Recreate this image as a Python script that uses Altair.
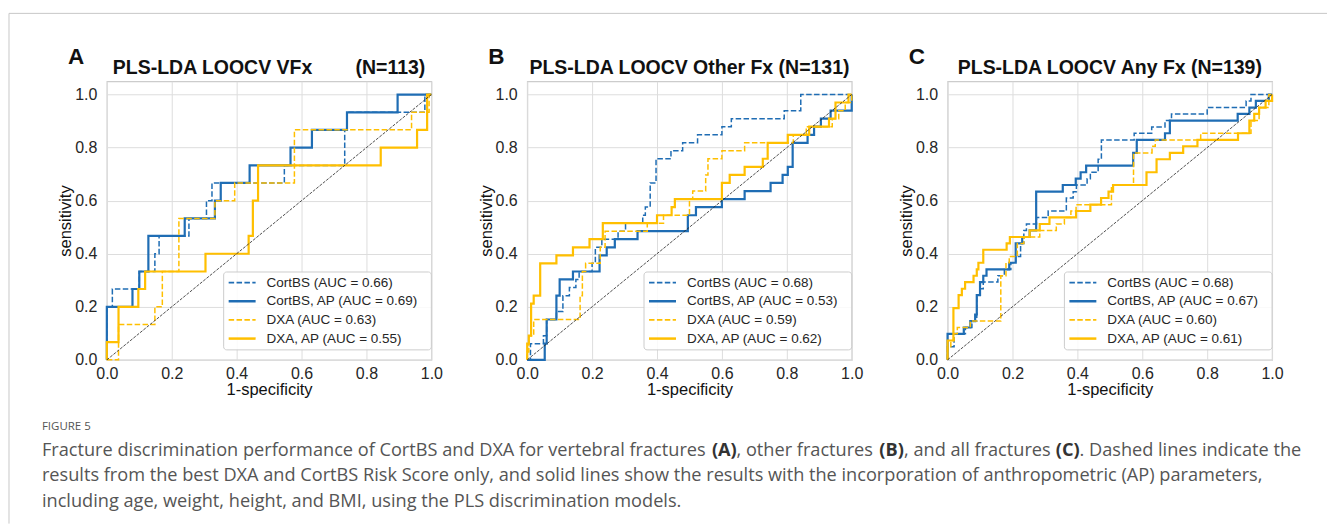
import altair as alt
import pandas as pd

# ---------------------------------------------------------------- styling
BLUE = "#1f6db4"
GOLD = "#ffbf00"
TEXT = "#262626"
FONT = "Liberation Sans"
CAPTION_FONT = "Open Sans"

# ---------------------------------------------------------------- text
PANEL_LETTERS = ["A", "B", "C"]
PANEL_TITLES = [
    "PLS-LDA LOOCV VFx" + "\u00a0" * 7 + " (N=113)",
    "PLS-LDA LOOCV Other Fx (N=131)",
    "PLS-LDA LOOCV Any Fx (N=139)",
]
SERIES_NAMES = ["CortBS", "CortBS, AP", "DXA", "DXA, AP"]
AUC = [
    [0.66, 0.69, 0.63, 0.55],
    [0.68, 0.53, 0.59, 0.62],
    [0.68, 0.67, 0.60, 0.61],
]
TICKS = [0.0, 0.2, 0.4, 0.6, 0.8, 1.0]
CAPTION_HEAD = "FIGURE 5"
# first caption line: (text, bold, left edge relative to the caption margin)
CAPTION_FIRST = [
    ("Fracture discrimination performance of CortBS and DXA for vertebral fractures ", False, 0),
    ("(A)", True, 671),
    (", other fractures ", False, 695.6),
    ("(B)", True, 838.6),
    (", and all fractures ", False, 863.4),
    ("(C)", True, 1015.4),
    (". Dashed lines indicate the", False, 1039.1),
]
CAPTION_LINES = [
    "results from the best DXA and CortBS Risk Score only, and solid lines show the results with the incorporation "
    "of anthropometric (AP) parameters,",
    "including age, weight, height, and BMI, using the PLS discrimination models.",
]

# ---------------------------------------------------------------- ROC vertices (1-specificity, sensitivity)
# Vertebral fractures
A_CORTBS = [(0, 0), (0, 0.2), (0.017, 0.2), (0.017, 0.267), (0.1, 0.267), (0.1, 0.333), (0.148, 0.333),
            (0.148, 0.4), (0.161, 0.4), (0.161, 0.467), (0.253, 0.467), (0.253, 0.533), (0.307, 0.533),
            (0.307, 0.6), (0.324, 0.6), (0.324, 0.667), (0.547, 0.667), (0.547, 0.733), (0.733, 0.733),
            (0.733, 0.867), (0.74, 0.867), (0.74, 0.933), (0.98, 0.933), (0.98, 1.0), (1, 1)]
A_CORTBS_AP = [(0, 0), (0, 0.2), (0.079, 0.2), (0.079, 0.267), (0.1, 0.267), (0.1, 0.333), (0.128, 0.333),
               (0.128, 0.467), (0.24, 0.467), (0.24, 0.533), (0.333, 0.533), (0.333, 0.6), (0.351, 0.6),
               (0.351, 0.667), (0.44, 0.667), (0.44, 0.733), (0.566, 0.733), (0.566, 0.8), (0.632, 0.8),
               (0.632, 0.867), (0.74, 0.867), (0.74, 0.933), (0.896, 0.933), (0.896, 1.0), (1, 1)]
A_DXA = [(0, 0), (0.036, 0), (0.036, 0.133), (0.148, 0.133), (0.148, 0.2), (0.171, 0.2), (0.171, 0.333),
         (0.222, 0.333), (0.222, 0.533), (0.333, 0.533), (0.333, 0.6), (0.394, 0.6), (0.394, 0.667),
         (0.578, 0.667), (0.578, 0.867), (0.939, 0.867), (0.939, 0.933), (0.993, 0.933), (0.993, 1.0), (1, 1)]
A_DXA_AP = [(0, 0), (0, 0.067), (0.036, 0.067), (0.036, 0.2), (0.097, 0.2), (0.097, 0.267), (0.118, 0.267),
            (0.118, 0.333), (0.304, 0.333), (0.304, 0.4), (0.437, 0.4), (0.437, 0.467), (0.45, 0.467),
            (0.45, 0.6), (0.466, 0.6), (0.466, 0.733), (0.844, 0.733), (0.844, 0.8), (0.956, 0.8),
            (0.956, 0.867), (0.987, 0.867), (0.987, 1.0), (1, 1)]

# Other fractures
B_CORTBS = [(0, 0), (0.01, 0), (0.01, 0.061), (0.05, 0.061), (0.05, 0.091), (0.06, 0.091), (0.06, 0.152),
            (0.09, 0.152), (0.09, 0.182), (0.11, 0.182), (0.11, 0.242), (0.13, 0.242), (0.13, 0.273),
            (0.15, 0.273), (0.15, 0.303), (0.16, 0.303), (0.16, 0.333), (0.2, 0.333), (0.2, 0.364),
            (0.21, 0.364), (0.21, 0.424), (0.23, 0.424), (0.23, 0.455), (0.28, 0.455), (0.28, 0.485),
            (0.303, 0.485), (0.303, 0.515), (0.356, 0.515), (0.356, 0.545), (0.364, 0.545), (0.364, 0.576),
            (0.379, 0.576), (0.379, 0.667), (0.397, 0.667), (0.397, 0.758), (0.443, 0.758), (0.443, 0.788),
            (0.479, 0.788), (0.479, 0.818), (0.525, 0.818), (0.525, 0.848), (0.6, 0.848), (0.6, 0.879),
            (0.629, 0.879), (0.629, 0.909), (0.792, 0.909), (0.792, 0.939), (0.843, 0.939), (0.843, 1.0), (1, 1)]
B_CORTBS_AP = [(0, 0), (0.054, 0), (0.054, 0.061), (0.06, 0.061), (0.06, 0.152), (0.09, 0.152), (0.09, 0.242),
               (0.1, 0.242), (0.1, 0.303), (0.141, 0.303), (0.141, 0.333), (0.223, 0.333), (0.223, 0.394),
               (0.245, 0.394), (0.245, 0.424), (0.27, 0.424), (0.27, 0.455), (0.34, 0.455), (0.34, 0.485),
               (0.495, 0.485), (0.495, 0.545), (0.52, 0.545), (0.52, 0.576), (0.6, 0.576), (0.6, 0.606),
               (0.67, 0.606), (0.67, 0.636), (0.75, 0.636), (0.75, 0.667), (0.787, 0.667), (0.787, 0.697),
               (0.803, 0.697), (0.803, 0.727), (0.818, 0.727), (0.818, 0.818), (0.864, 0.818), (0.864, 0.848),
               (0.884, 0.848), (0.884, 0.879), (0.905, 0.879), (0.905, 0.909), (0.935, 0.909), (0.935, 0.939),
               (1, 0.939), (1, 1)]
B_DXA = [(0, 0), (0, 0.03), (0.005, 0.03), (0.005, 0.091), (0.02, 0.091), (0.02, 0.152), (0.163, 0.152),
         (0.163, 0.242), (0.17, 0.242), (0.17, 0.333), (0.18, 0.333), (0.18, 0.364), (0.225, 0.364),
         (0.225, 0.424), (0.24, 0.424), (0.24, 0.485), (0.37, 0.485), (0.37, 0.515), (0.42, 0.515),
         (0.42, 0.545), (0.5, 0.545), (0.5, 0.606), (0.51, 0.606), (0.51, 0.636), (0.55, 0.636),
         (0.55, 0.697), (0.557, 0.697), (0.557, 0.758), (0.6, 0.758), (0.6, 0.788), (0.67, 0.788),
         (0.67, 0.818), (0.82, 0.818), (0.82, 0.848), (0.86, 0.848), (0.86, 0.879), (0.94, 0.879),
         (0.94, 0.909), (0.96, 0.909), (0.96, 0.939), (0.98, 0.939), (0.98, 0.97), (1, 0.97), (1, 1)]
B_DXA_AP = [(0, 0), (0, 0.061), (0.005, 0.061), (0.005, 0.091), (0.012, 0.091), (0.012, 0.212), (0.02, 0.212),
            (0.02, 0.242), (0.04, 0.242), (0.04, 0.364), (0.09, 0.364), (0.09, 0.394), (0.141, 0.394),
            (0.141, 0.424), (0.192, 0.424), (0.192, 0.455), (0.233, 0.455), (0.233, 0.515), (0.4, 0.515),
            (0.4, 0.545), (0.445, 0.545), (0.445, 0.576), (0.455, 0.576), (0.455, 0.606), (0.6, 0.606),
            (0.6, 0.667), (0.624, 0.667), (0.624, 0.697), (0.67, 0.697), (0.67, 0.727), (0.726, 0.727),
            (0.726, 0.758), (0.741, 0.758), (0.741, 0.818), (0.803, 0.818), (0.803, 0.848), (0.869, 0.848),
            (0.869, 0.879), (0.93, 0.879), (0.93, 0.909), (0.95, 0.909), (0.95, 0.97), (0.99, 0.97),
            (0.99, 1.0), (1, 1)]

# Any fracture
C_CORTBS = [(0, 0), (0, 0.049), (0.02, 0.049), (0.02, 0.098), (0.055, 0.098), (0.055, 0.122), (0.075, 0.122),
            (0.075, 0.146), (0.09, 0.146), (0.09, 0.244), (0.1, 0.244), (0.1, 0.268), (0.11, 0.268),
            (0.11, 0.293), (0.155, 0.293), (0.155, 0.317), (0.175, 0.317), (0.175, 0.341), (0.195, 0.341),
            (0.195, 0.366), (0.21, 0.366), (0.21, 0.39), (0.225, 0.39), (0.225, 0.439), (0.235, 0.439),
            (0.235, 0.488), (0.243, 0.488), (0.243, 0.512), (0.274, 0.512), (0.274, 0.537), (0.31, 0.537),
            (0.31, 0.561), (0.366, 0.561), (0.366, 0.61), (0.387, 0.61), (0.387, 0.634), (0.397, 0.634),
            (0.397, 0.659), (0.43, 0.659), (0.43, 0.683), (0.44, 0.683), (0.44, 0.707), (0.464, 0.707),
            (0.464, 0.756), (0.474, 0.756), (0.474, 0.829), (0.575, 0.829), (0.575, 0.854), (0.629, 0.854),
            (0.629, 0.878), (0.67, 0.878), (0.67, 0.902), (0.69, 0.902), (0.69, 0.927), (0.8, 0.927),
            (0.8, 0.951), (0.92, 0.951), (0.92, 0.976), (0.935, 0.976), (0.935, 1.0), (1, 1)]
C_CORTBS_AP = [(0, 0), (0, 0.098), (0.05, 0.098), (0.05, 0.122), (0.07, 0.122), (0.07, 0.146), (0.085, 0.146),
               (0.085, 0.171), (0.09, 0.171), (0.09, 0.244), (0.1, 0.244), (0.1, 0.293), (0.11, 0.293),
               (0.11, 0.317), (0.12, 0.317), (0.12, 0.341), (0.19, 0.341), (0.19, 0.366), (0.21, 0.366),
               (0.21, 0.439), (0.23, 0.439), (0.23, 0.463), (0.253, 0.463), (0.253, 0.488), (0.273, 0.488),
               (0.273, 0.634), (0.355, 0.634), (0.355, 0.659), (0.395, 0.659), (0.395, 0.683), (0.41, 0.683),
               (0.41, 0.707), (0.427, 0.707), (0.427, 0.732), (0.572, 0.732), (0.572, 0.78), (0.583, 0.78),
               (0.583, 0.829), (0.67, 0.829), (0.67, 0.854), (0.685, 0.854), (0.685, 0.902), (0.894, 0.902),
               (0.894, 0.927), (0.93, 0.927), (0.93, 0.951), (0.95, 0.951), (0.95, 0.976), (0.99, 0.976),
               (0.99, 1.0), (1, 1)]
C_DXA = [(0, 0), (0, 0.049), (0.01, 0.049), (0.01, 0.073), (0.02, 0.073), (0.02, 0.098), (0.03, 0.098),
         (0.03, 0.122), (0.07, 0.122), (0.07, 0.146), (0.164, 0.146), (0.164, 0.317), (0.18, 0.317),
         (0.18, 0.366), (0.19, 0.366), (0.19, 0.39), (0.215, 0.39), (0.215, 0.439), (0.235, 0.439),
         (0.235, 0.463), (0.284, 0.463), (0.284, 0.488), (0.335, 0.488), (0.335, 0.512), (0.36, 0.512),
         (0.36, 0.537), (0.38, 0.537), (0.38, 0.561), (0.396, 0.561), (0.396, 0.585), (0.505, 0.585),
         (0.505, 0.659), (0.573, 0.659), (0.573, 0.78), (0.63, 0.78), (0.63, 0.805), (0.64, 0.805),
         (0.64, 0.829), (0.78, 0.829), (0.78, 0.854), (0.935, 0.854), (0.935, 0.902), (0.96, 0.902),
         (0.96, 0.951), (0.99, 0.951), (0.99, 1.0), (1, 1)]
C_DXA_AP = [(0, 0), (0, 0.073), (0.018, 0.073), (0.018, 0.195), (0.034, 0.195), (0.034, 0.244), (0.044, 0.244),
            (0.044, 0.268), (0.054, 0.268), (0.054, 0.293), (0.08, 0.293), (0.08, 0.317), (0.09, 0.317),
            (0.09, 0.341), (0.095, 0.341), (0.095, 0.366), (0.11, 0.366), (0.11, 0.415), (0.182, 0.415),
            (0.182, 0.439), (0.192, 0.439), (0.192, 0.463), (0.253, 0.463), (0.253, 0.488), (0.284, 0.488),
            (0.284, 0.512), (0.314, 0.512), (0.314, 0.537), (0.396, 0.537), (0.396, 0.561), (0.44, 0.561),
            (0.44, 0.585), (0.473, 0.585), (0.473, 0.61), (0.496, 0.61), (0.496, 0.634), (0.51, 0.634),
            (0.51, 0.659), (0.613, 0.659), (0.613, 0.707), (0.644, 0.707), (0.644, 0.756), (0.685, 0.756),
            (0.685, 0.78), (0.726, 0.78), (0.726, 0.805), (0.77, 0.805), (0.77, 0.829), (0.895, 0.829),
            (0.895, 0.854), (0.93, 0.854), (0.93, 0.902), (0.945, 0.902), (0.945, 0.927), (0.96, 0.927),
            (0.96, 0.951), (0.98, 0.951), (0.98, 0.976), (1, 0.976), (1, 1)]

CURVES = [
    [A_CORTBS, A_CORTBS_AP, A_DXA, A_DXA_AP],
    [B_CORTBS, B_CORTBS_AP, B_DXA, B_DXA_AP],
    [C_CORTBS, C_CORTBS_AP, C_DXA, C_DXA_AP],
]
CHANCE = [(0, 0), (1, 1)]

# line style per series: colour, dash pattern (None = solid), width
STYLES = [(BLUE, [5.5, 2.4], 1.5), (BLUE, None, 2.2), (GOLD, [5.5, 2.4], 1.5), (GOLD, None, 2.2)]

W, H = 325, 279          # plot area of each panel
GAP = 96                 # distance between plot areas
CAP_X = -65              # caption margin, relative to the first plot area
CAP_SIZE = 18.2


def one_row(**fields):
    return alt.Data(values=[fields])


def line_kwargs(color, dash, width):
    kw = dict(color=color, strokeWidth=width)
    if dash:
        kw["strokeDash"] = dash
    return kw


def label_layer(text, x, y, **mark):
    return alt.Chart(one_row(t=text)).mark_text(**mark).encode(
        x=alt.value(x), y=alt.value(y), text="t:N"
    )


def panel(i):
    x_axis = alt.Axis(values=TICKS, format=".1f", title="1-specificity", labelFlush=False,
                      labelOverlap=False, labelPadding=6, titlePadding=0)
    y_axis = alt.Axis(values=TICKS, format=".1f", title="sensitivity", labelPadding=10,
                      labelOverlap=False, titlePadding=1)
    xs = alt.Scale(domain=[0, 1], nice=False, zero=False)
    ys = alt.Scale(domain=[0, 1.05], nice=False, zero=False)

    layers = []
    for s, pts in enumerate(CURVES[i]):
        df = pd.DataFrame(pts, columns=["fpr", "tpr"])
        df["step"] = range(len(df))
        color, dash, width = STYLES[s]
        layers.append(
            alt.Chart(df).mark_line(**line_kwargs(color, dash, width)).encode(
                x=alt.X("fpr:Q", scale=xs, axis=x_axis),
                y=alt.Y("tpr:Q", scale=ys, axis=y_axis),
                order="step:Q",
            )
        )
    diag = pd.DataFrame(CHANCE, columns=["fpr", "tpr"])
    layers.append(
        alt.Chart(diag).mark_line(color="#222222", strokeWidth=0.8, strokeDash=[3, 1.3]).encode(
            x=alt.X("fpr:Q", scale=xs), y=alt.Y("tpr:Q", scale=ys)
        )
    )

    # legend box in the lower right corner
    lx0, lx1, ly0, ly1 = 117, 325, 191, 269
    layers.append(
        alt.Chart(one_row(k=0)).mark_rect(fill="white", fillOpacity=0.85, stroke="#cccccc",
                                          strokeWidth=1, cornerRadius=3).encode(
            x=alt.value(lx0), x2=alt.value(lx1), y=alt.value(ly0), y2=alt.value(ly1)
        )
    )
    for s in range(4):
        color, dash, width = STYLES[s]
        yy = 201.6 + s * 18.7
        label = f"{SERIES_NAMES[s]} (AUC = {AUC[i][s]:.2f})"
        layers.append(
            alt.Chart(one_row(k=s)).mark_rule(**line_kwargs(color, dash, width + 0.3)).encode(
                x=alt.value(122), x2=alt.value(149), y=alt.value(yy)
            )
        )
        layers.append(label_layer(label, 160, yy, align="left", baseline="middle", font=FONT,
                                  fontSize=13.5, color=TEXT))

    # panel title and letter
    layers.append(label_layer(PANEL_TITLES[i], W / 2, -7, align="center", baseline="alphabetic", font=FONT,
                              fontSize=19.5, fontWeight="bold", color="#111111"))
    layers.append(label_layer(PANEL_LETTERS[i], -39, -17, align="left", baseline="alphabetic", font=FONT,
                              fontSize=22.5, fontWeight="bold", color="#111111"))

    if i == 0:
        # page frame and figure caption, placed relative to the first panel
        layers.append(
            alt.Chart(one_row(k=0)).mark_rule(color="white", strokeWidth=1).encode(
                x=alt.value(-105), x2=alt.value(-103), y=alt.value(-79)
            )
        )
        layers.append(
            alt.Chart(one_row(k=0)).mark_rule(color="#c8c8c8", strokeWidth=1).encode(
                x=alt.value(-98), x2=alt.value(1222), y=alt.value(-68)
            )
        )
        layers.append(
            alt.Chart(one_row(k=0)).mark_rule(color="#c8c8c8", strokeWidth=1).encode(
                x=alt.value(-98), y=alt.value(-68), y2=alt.value(443)
            )
        )
        layers.append(label_layer(CAPTION_HEAD, CAP_X, 349, align="left", baseline="alphabetic",
                                  font=CAPTION_FONT, fontSize=11.5, color="#555555"))
        for text, bold, dx in CAPTION_FIRST:
            layers.append(label_layer(text, CAP_X + dx, 375, align="left", baseline="alphabetic",
                                      font=CAPTION_FONT, fontSize=CAP_SIZE,
                                      color="#333333" if bold else "#555555",
                                      fontWeight="bold" if bold else "normal"))
        for k, line in enumerate(CAPTION_LINES):
            layers.append(label_layer(line, CAP_X, 375 + (k + 1) * 25.5, align="left", baseline="alphabetic",
                                      font=CAPTION_FONT, fontSize=CAP_SIZE, color="#555555"))

    return alt.layer(*layers).properties(width=W, height=H)


chart = (
    alt.hconcat(panel(0), panel(1), panel(2), spacing=GAP, bounds="flush")
    .properties(padding={"left": 0, "top": 0, "right": 0, "bottom": 0}, background="white")
    .configure_view(stroke="#cccccc", strokeWidth=1.2)
    .configure_axis(
        labelFont=FONT, labelFontSize=16, labelColor=TEXT,
        titleFont=FONT, titleFontSize=16.5, titleFontWeight="normal", titleColor="#111111",
        gridColor="#dddddd", gridWidth=1, domain=False, ticks=False, tickSize=0,
    )
)

chart.save("out.html", embed_options={"renderer": "svg", "actions": False})
